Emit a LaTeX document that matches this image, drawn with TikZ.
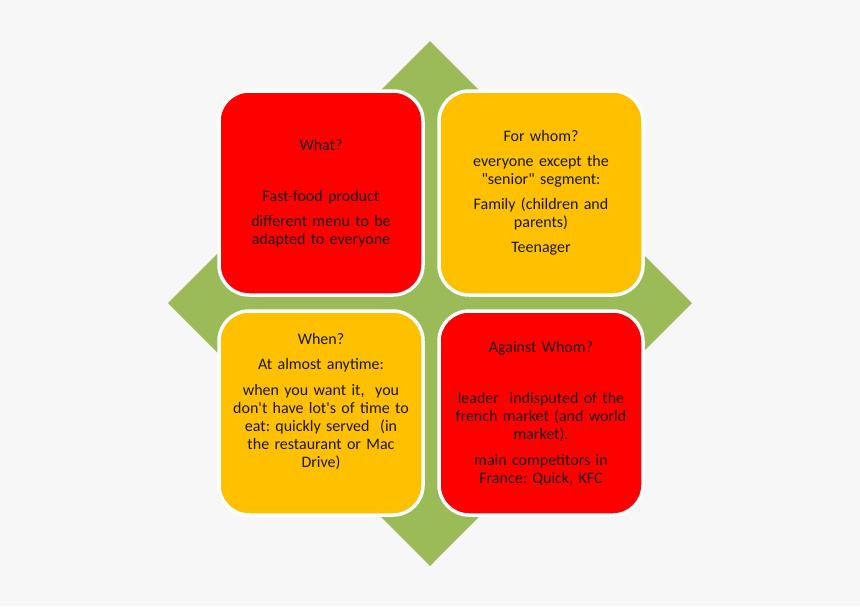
\documentclass[tikz,border=0pt]{standalone}
\usepackage{fontspec}
\setmainfont{Carlito}
\usepackage{tikz}
\usepackage{xcolor}

\definecolor{bggray}{HTML}{F7F7F7}
\definecolor{leafgreen}{HTML}{9BBB59}
\definecolor{boxred}{HTML}{FF0000}
\definecolor{boxamber}{HTML}{FFC000}

\tikzset{
  quad/.style={draw=white, line width=3.5pt, rounded corners=30pt,
    minimum width=204pt, minimum height=204pt, text width=192pt,
    align=center, inner sep=0pt, text=black!90,
    font=\fontsize{16}{18}\selectfont\frenchspacing}
}

\begin{document}
\begin{tikzpicture}[x=1pt, y=-1pt]
        \fill[bggray] (0,0) rectangle (860,606);
        \useasboundingbox (0,0) rectangle (860,606);

        % diamond behind the four boxes
        \fill[leafgreen] (430,41) -- (692,303) -- (430,566) -- (168,303) -- cycle;

        \node (what)    at (321, 193) [quad, fill=boxred]
          {What?\\[33pt]Fast-food product\\[7pt]different menu to be\\adapted to everyone};
        \node (whom)    at (541, 193) [quad, fill=boxamber]
          {For whom?\\[7pt]everyone except the\\\textquotedbl senior\textquotedbl{} segment:\\[7pt]Family (children and\\parents)\\[7pt]Teenager};
        \node (when)    at (321, 413) [quad, fill=boxamber]
          {When?\\[7pt]At almost anytime:\\[8pt]when you want it,\ \ you\\don\textquotesingle t have lot\textquotesingle s of time to\\eat: quickly served\ \ (in\\the restaurant or Mac\\Drive)\\[7pt]\mbox{}};
        \node (against) at (541, 413) [quad, fill=boxred]
          {Against Whom?\\[33pt]leader\ \ indisputed of the\\french market (and world\\market).\\[8pt]main competitors in\\France: Quick, KFC};
    \end{tikzpicture}
\end{document}
